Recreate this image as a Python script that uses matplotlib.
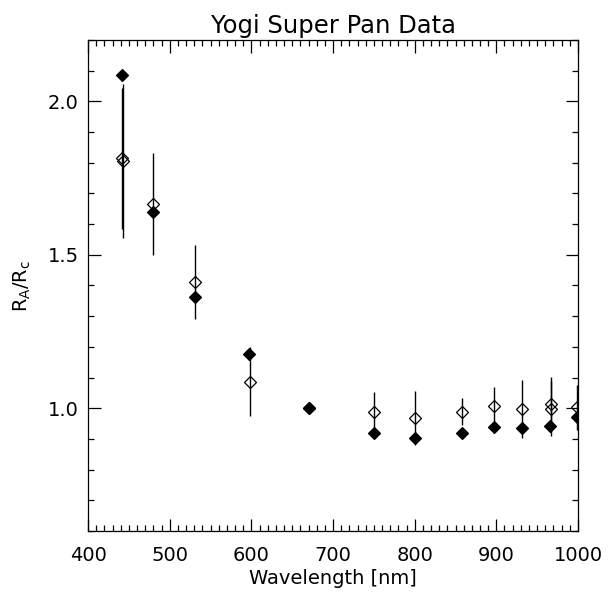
import matplotlib
matplotlib.use('Agg')
import matplotlib.pyplot as plt
import numpy as np
from matplotlib.ticker import MultipleLocator, FixedLocator

# open diamonds (with error bars)
wl_open = [442, 443, 480, 530.5, 598.5, 670, 750.5, 800.5, 857.5, 897, 931, 966.5, 966.5, 998.5]
ratio_open = [1.815, 1.805, 1.666, 1.411, 1.087, 1.0, 0.988, 0.967, 0.989, 1.007, 0.997, 1.015, 0.999, 1.003]
err_open = [0.23, 0.25, 0.167, 0.121, 0.112, 0.0, 0.066, 0.088, 0.045, 0.062, 0.094, 0.088, 0.09, 0.073]

# filled diamonds
wl_fill = [442, 480, 530.5, 597.5, 670.5, 750.5, 800.5, 857.5, 897, 931, 966, 998.5]
ratio_fill = [2.087, 1.640, 1.364, 1.176, 1.0, 0.920, 0.904, 0.920, 0.939, 0.937, 0.942, 0.973]

plt.rcParams['font.family'] = ['DejaVu Sans']
fig = plt.figure(figsize=(6.16, 5.96), dpi=100)
ax = fig.add_axes([0.1429, 0.1091, 0.7954, 0.8238])

ax.errorbar(wl_open, ratio_open, yerr=err_open, fmt='none', ecolor='black',
            elinewidth=1.0, capsize=0)
ax.plot(wl_open, ratio_open, 'D', ms=6, mfc='none', mec='black', mew=0.9)
ax.plot(wl_fill, ratio_fill, 'D', ms=6, mfc='black', mec='black', mew=0.9)

ax.set_xlim(400, 1000)
ax.set_ylim(0.6, 2.2)

ax.xaxis.set_major_locator(MultipleLocator(100))
ax.xaxis.set_minor_locator(MultipleLocator(10))
ax.yaxis.set_major_locator(FixedLocator([1.0, 1.5, 2.0]))
ax.yaxis.set_minor_locator(MultipleLocator(0.1))
ax.set_yticklabels(['1.0', '1.5', '2.0'])

ax.tick_params(which='both', direction='in', top=True, right=True, width=0.9, labelsize=14)
ax.tick_params(which='major', length=9)
ax.tick_params(which='minor', length=4)
ax.tick_params(axis='x', pad=10.5)
ax.tick_params(axis='y', pad=6.5)
for s in ax.spines.values():
    s.set_linewidth(0.9)

ax.set_xlabel('Wavelength [nm]', fontsize=14, labelpad=3.5)
ax.set_ylabel(r'R$_\mathrm{A}$/R$_\mathrm{c}$', fontsize=14, labelpad=11)
ax.set_title('Yogi Super Pan Data', fontsize=17.5, pad=5.3)

fig.savefig('out.png', dpi=100)
